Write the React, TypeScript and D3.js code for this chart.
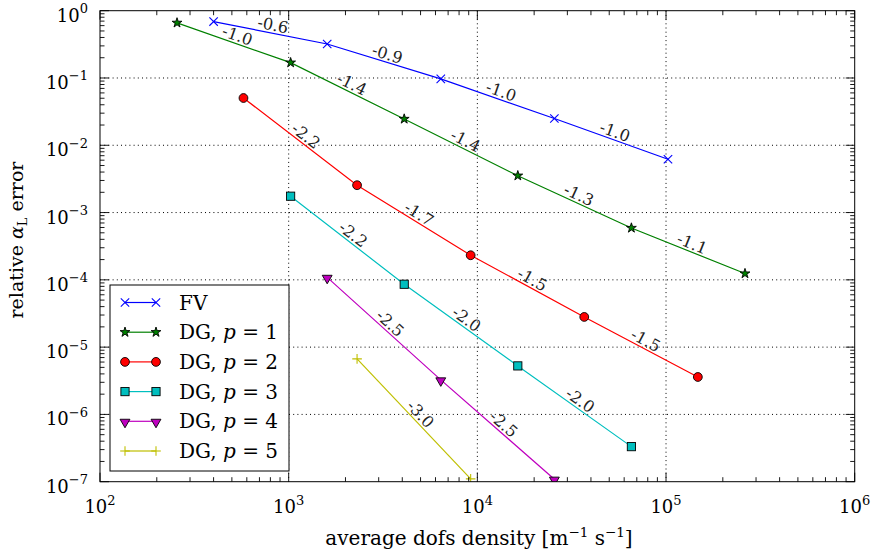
import React from "react";
import * as d3 from "d3";

// ---- data ----
const xFV = [400, 1600, 6400, 25600, 102400];
const yFV = [0.69, 0.32, 0.097, 0.025, 0.0062];
const sFV = ["-0.6", "-0.9", "-1.0", "-1.0"];

const xP1 = [256, 1024, 4096, 16384, 65536, 262144];
const yP1 = [0.66, 0.169, 0.0246, 0.00353, 5.9e-4, 1.24e-4];
const sP1 = ["-1.0", "-1.4", "-1.4", "-1.3", "-1.1"];

const xP2 = [576, 2304, 9216, 36864, 147456];
const yP2 = [0.0504, 2.55e-3, 2.32e-4, 2.81e-5, 3.6e-6];
const sP2 = ["-2.2", "-1.7", "-1.5", "-1.5"];

const xP3 = [1024, 4096, 16384, 65536];
const yP3 = [1.75e-3, 8.6e-5, 5.26e-6, 3.32e-7];
const sP3 = ["-2.2", "-2.0", "-2.0"];

const xP4 = [1600, 6400, 25600];
const yP4 = [1.09e-4, 3.26e-6, 1.09e-7];
const sP4 = ["-2.5", "-2.5"];

const xP5 = [2304, 9216];
const yP5 = [6.7e-6, 1.1e-7];
const sP5 = ["-3.0"];

const xMajorExp = [2, 3, 4, 5, 6];
const yMajorExp = [-7, -6, -5, -4, -3, -2, -1, 0];

type Marker = "x" | "star" | "circle" | "square" | "tri" | "plus";
const seriesDefs = [
  { name: "FV", p: null, xs: xFV, ys: yFV, slopes: sFV, color: "#0000ff", marker: "x" as Marker },
  { name: "DG", p: "1", xs: xP1, ys: yP1, slopes: sP1, color: "#008000", marker: "star" as Marker },
  { name: "DG", p: "2", xs: xP2, ys: yP2, slopes: sP2, color: "#ff0000", marker: "circle" as Marker },
  { name: "DG", p: "3", xs: xP3, ys: yP3, slopes: sP3, color: "#00bfbf", marker: "square" as Marker },
  { name: "DG", p: "4", xs: xP4, ys: yP4, slopes: sP4, color: "#bf00bf", marker: "tri" as Marker },
  { name: "DG", p: "5", xs: xP5, ys: yP5, slopes: sP5, color: "#bfbf00", marker: "plus" as Marker },
];

const W = 872;
const H = 557;
const L = 100, R = 854.7, T = 10.7, B = 481.7;
const FONT = "'DejaVu Serif', serif";

const x = d3.scaleLog().domain([1e2, 1e6]).range([L, R]);
const y = d3.scaleLog().domain([1e-7, 1]).range([B, T]);

const starPath = d3.symbol().type(d3.symbolStar).size(30)() as string;
const triPath = d3.symbol().type(d3.symbolTriangle).size(42)() as string;

function MarkerShape({ m, cx, cy, color }: { m: Marker; cx: number; cy: number; color: string }) {
  const k = 4.2;
  switch (m) {
    case "x":
      return (
        <g stroke={color} strokeWidth={1.1}>
          <line x1={cx - k} y1={cy - k} x2={cx + k} y2={cy + k} />
          <line x1={cx - k} y1={cy + k} x2={cx + k} y2={cy - k} />
        </g>
      );
    case "plus":
      return (
        <g stroke={color} strokeWidth={1.1}>
          <line x1={cx - 4.8} y1={cy} x2={cx + 4.8} y2={cy} />
          <line x1={cx} y1={cy - 4.8} x2={cx} y2={cy + 4.8} />
        </g>
      );
    case "circle":
      return <circle cx={cx} cy={cy} r={4.4} fill={color} stroke="#000" strokeWidth={0.9} />;
    case "square":
      return <rect x={cx - 4.1} y={cy - 4.1} width={8.2} height={8.2} fill={color} stroke="#000" strokeWidth={0.9} />;
    case "star":
      return <path d={starPath} transform={`translate(${cx},${cy})`} fill={color} stroke="#000" strokeWidth={0.9} />;
    case "tri":
      return <path d={triPath} transform={`translate(${cx},${cy + 0.8}) rotate(180)`} fill={color} stroke="#000" strokeWidth={0.9} />;
  }
  return null;
}

function Pow({ base, exp, x0, y0, anchor, size, supSize }: any) {
  return (
    <text x={x0} y={y0} textAnchor={anchor} fontFamily={FONT} fontSize={size} fill="#000">
      <tspan>{base}</tspan>
      <tspan dy={-8.5} fontSize={supSize}>{exp}</tspan>
    </text>
  );
}

export default function App() {
  const line = d3
    .line<[number, number]>()
    .x((d) => x(d[0]))
    .y((d) => y(d[1]));

  // minor ticks
  const xMinor: number[] = [];
  for (let e = 2; e < 6; e++) for (let k = 2; k <= 9; k++) xMinor.push(k * Math.pow(10, e));
  const yMinor: number[] = [];
  for (let e = -7; e < 0; e++) for (let k = 2; k <= 9; k++) yMinor.push(k * Math.pow(10, e));

  const majLen = 9, minLen = 4.5;
  const fmtExp = (e: number) => (e < 0 ? "\u2212" + Math.abs(e) : String(e));

  const legendX = 110, legendY = 285, legendW = 179, legendH = 186;
  const legRow0 = 302.5, legStep = 29.7;

  return (
    <svg width={W} height={H} style={{ position: "absolute", left: 0, top: 0, background: "#fff" }}>
      <defs>
        <clipPath id="plotClip">
          <rect x={L} y={T} width={R - L} height={B - T} />
        </clipPath>
      </defs>
      <rect x={0} y={0} width={W} height={H} fill="#fff" />

      {/* grid */}
      <g stroke="#000" strokeWidth={1} strokeDasharray="1,3.2">
        {xMajorExp.slice(1, -1).map((e) => (
          <line key={"gx" + e} x1={x(Math.pow(10, e))} x2={x(Math.pow(10, e))} y1={T} y2={B} />
        ))}
        {yMajorExp.slice(1, -1).map((e) => (
          <line key={"gy" + e} y1={y(Math.pow(10, e))} y2={y(Math.pow(10, e))} x1={L} x2={R} />
        ))}
      </g>

      {/* series */}
      <g clipPath="url(#plotClip)">
        {seriesDefs.map((s, i) => {
          const pts = s.xs.map((xv, j) => [xv, s.ys[j]] as [number, number]);
          return (
            <g key={"s" + i}>
              <path d={line(pts) as string} fill="none" stroke={s.color} strokeWidth={1.2} />
              {pts.map((p, j) => (
                <MarkerShape key={j} m={s.marker} cx={x(p[0])} cy={y(p[1])} color={s.color} />
              ))}
            </g>
          );
        })}
      </g>

      {/* slope labels */}
      <g>
        {seriesDefs.map((s, i) =>
          s.slopes.map((lab, j) => {
            const x1 = x(s.xs[j]), y1 = y(s.ys[j]);
            const x2 = x(s.xs[j + 1]), y2 = y(s.ys[j + 1]);
            const mx = (x1 + x2) / 2, my = (y1 + y2) / 2;
            const ang = (Math.atan2(y2 - y1, x2 - x1) * 180) / Math.PI;
            return (
              <text
                key={`sl${i}-${j}`}
                transform={`translate(${mx},${my}) rotate(${ang})`}
                x={1}
                y={-8}
                textAnchor="middle"
                dominantBaseline="central"
                fontFamily={FONT}
                fontSize={16}
                fill="#222"
              >
                {lab}
              </text>
            );
          })
        )}
      </g>

      {/* frame */}
      <rect x={L} y={T} width={R - L} height={B - T} fill="none" stroke="#000" strokeWidth={1} />

      {/* ticks */}
      <g stroke="#000" strokeWidth={0.9}>
        {xMajorExp.map((e) => {
          const px = x(Math.pow(10, e));
          return (
            <g key={"xt" + e}>
              <line x1={px} x2={px} y1={B} y2={B - majLen} />
              <line x1={px} x2={px} y1={T} y2={T + majLen} />
            </g>
          );
        })}
        {xMinor.map((v, i) => {
          const px = x(v);
          return (
            <g key={"xm" + i}>
              <line x1={px} x2={px} y1={B} y2={B - minLen} />
              <line x1={px} x2={px} y1={T} y2={T + minLen} />
            </g>
          );
        })}
        {yMajorExp.map((e) => {
          const py = y(Math.pow(10, e));
          return (
            <g key={"yt" + e}>
              <line x1={L} x2={L + majLen} y1={py} y2={py} />
              <line x1={R} x2={R - majLen} y1={py} y2={py} />
            </g>
          );
        })}
        {yMinor.map((v, i) => {
          const py = y(v);
          return (
            <g key={"ym" + i}>
              <line x1={L} x2={L + minLen} y1={py} y2={py} />
              <line x1={R} x2={R - minLen} y1={py} y2={py} />
            </g>
          );
        })}
      </g>

      {/* tick labels */}
      {xMajorExp.map((e) => (
        <Pow key={"xl" + e} base="10" exp={fmtExp(e)} x0={x(Math.pow(10, e))} y0={513} anchor="middle" size={18} supSize={13} />
      ))}
      {yMajorExp.map((e) => (
        <Pow key={"yl" + e} base="10" exp={fmtExp(e)} x0={88} y0={y(Math.pow(10, e)) + 11} anchor="end" size={18} supSize={13} />
      ))}

      {/* axis labels */}
      <text x={479} y={545} textAnchor="middle" fontFamily={FONT} fontSize={20} fill="#000">
        <tspan>average dofs density [m</tspan>
        <tspan dy={-8} fontSize={13.5}>{"\u22121"}</tspan>
        <tspan dy={8}> s</tspan>
        <tspan dy={-8} fontSize={13.5}>{"\u22121"}</tspan>
        <tspan dy={8}>]</tspan>
      </text>
      <text
        transform="translate(23,240) rotate(-90)"
        textAnchor="middle"
        fontFamily={FONT}
        fontSize={19}
        fill="#000"
      >
        <tspan>relative </tspan>
        <tspan fontStyle="italic">α</tspan>
        <tspan dy={4} fontSize={13}>L</tspan>
        <tspan dy={-4}> error</tspan>
      </text>

      {/* legend */}
      <rect x={legendX} y={legendY} width={legendW} height={legendH} fill="#fff" stroke="#000" strokeWidth={1} />
      {seriesDefs.map((s, i) => {
        const ly = legRow0 + i * legStep;
        return (
          <g key={"lg" + i}>
            <line x1={125} x2={156} y1={ly} y2={ly} stroke={s.color} strokeWidth={1.2} />
            <MarkerShape m={s.marker} cx={125} cy={ly} color={s.color} />
            <MarkerShape m={s.marker} cx={156} cy={ly} color={s.color} />
            <text x={179} y={ly + 7} fontFamily={FONT} fontSize={20} fill="#000">
              {s.p === null ? (
                s.name
              ) : (
                <>
                  <tspan>{s.name}, </tspan>
                  <tspan fontStyle="italic">p</tspan>
                  <tspan> = {s.p}</tspan>
                </>
              )}
            </text>
          </g>
        );
      })}
    </svg>
  );
}
